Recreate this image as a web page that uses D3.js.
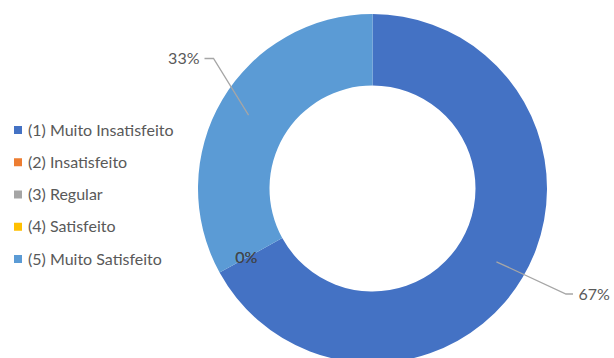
<!DOCTYPE html>
<html>
<head>
<meta charset="utf-8">
<script src="https://cdn.jsdelivr.net/npm/d3@7"></script>
<style>
  html, body { margin: 0; padding: 0; background: #fff; }
  svg { display: block; }
  text { font-family: Lato, "Open Sans", sans-serif; fill: #595959; }
</style>
</head>
<body>
<svg id="chart" width="614" height="358"></svg>
<script>
// Satisfaction survey answers (percent of responses)
const categories = ["(1) Muito Insatisfeito", "(2) Insatisfeito", "(3) Regular", "(4) Satisfeito", "(5) Muito Satisfeito"];
const values = [67, 0, 0, 0, 33];
const colors = ["#4472C4", "#ED7D31", "#A5A5A5", "#FFC000", "#5B9BD5"];

const svg = d3.select("#chart");
const cx = 372.5, cy = 188.5;
const outerR = 174.5, innerR = 103;
const fontSize = 16;

const color = d3.scaleOrdinal().domain(categories).range(colors);
const data = categories.map((c, i) => ({ cat: c, value: values[i] }));

const pie = d3.pie().sort(null).value(d => d.value);
const arcs = pie(data);
const arc = d3.arc().innerRadius(innerR).outerRadius(outerR);
const midR = 144;

const g = svg.append("g").attr("transform", `translate(${cx},${cy})`);

g.selectAll("path.slice")
  .data(arcs.filter(a => a.data.value > 0))
  .join("path")
  .attr("class", "slice")
  .attr("d", arc)
  .attr("fill", d => color(d.data.cat));

// point on a ring at a given angle (measured clockwise from 12 o'clock)
const polar = (r, a) => [r * Math.sin(a), -r * Math.cos(a)];

// callout placement for visible slices: elbow x, end x, line y, text x
const callouts = {
  "(1) Muito Insatisfeito": { elbow: 193.5, end: 200.5, y: 105.5, tx: 206, anchor: "start" },
  "(5) Muito Satisfeito": { elbow: -159, end: -168, y: -130, tx: -173, anchor: "end" }
};

arcs.forEach(a => {
  const mid = (a.startAngle + a.endAngle) / 2;
  const txt = d3.format(".0f")(a.data.value) + "%";
  const c = callouts[a.data.cat];
  if (a.data.value > 0 && c) {
    const [x0, y0] = polar(midR, mid);
    g.append("path")
      .attr("d", d3.line()([[x0, y0], [c.elbow, c.y], [c.end, c.y]]))
      .attr("fill", "none")
      .attr("stroke", "#A6A6A6")
      .attr("stroke-width", 1.3);
    g.append("text")
      .attr("x", c.tx)
      .attr("y", c.y)
      .attr("dy", "0.35em")
      .attr("text-anchor", c.anchor)
      .attr("font-size", fontSize)
      .text(txt);
  } else {
    // empty slices share one spot on the ring; their labels stack there
    const [x, y] = polar(midR, mid);
    g.append("text")
      .attr("x", x)
      .attr("y", y)
      .attr("dy", "0.35em")
      .attr("text-anchor", "middle")
      .attr("font-size", fontSize)
      .style("fill", "#404040")
      .style("fill-opacity", 0.6)
      .text(txt);
  }
});

// legend
const legendY = d3.scalePoint().domain(categories).range([130, 259]);
const item = svg.append("g").selectAll("g.item").data(categories).join("g")
  .attr("class", "item")
  .attr("transform", d => `translate(14,${legendY(d)})`);
item.append("rect")
  .attr("x", 0).attr("y", -4)
  .attr("width", 8).attr("height", 8)
  .attr("fill", d => color(d));
item.append("text")
  .attr("x", 14)
  .attr("y", 0)
  .attr("dy", "0.35em")
  .attr("font-size", fontSize)
  .text(d => d);
</script>
</body>
</html>
